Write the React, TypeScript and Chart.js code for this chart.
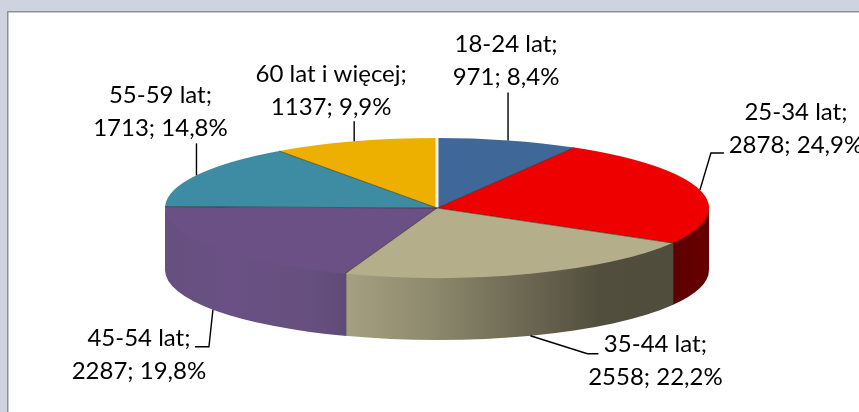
import React, { useEffect, useRef } from "react";
import { Chart, registerables } from "chart.js";

Chart.register(...registerables);

const categories = ["18-24 lat", "25-34 lat", "35-44 lat", "45-54 lat", "55-59 lat", "60 lat i więcej"];
const values = [971, 2878, 2558, 2287, 1713, 1137];
const percents = ["8,4%", "24,9%", "22,2%", "19,8%", "14,8%", "9,9%"];
const topColors = ["#3F6797", "#EE0000", "#B5AE8A", "#6A5084", "#3D8CA3", "#EEB000"];

const W = 859, H = 412;
const CX = 437, CY = 208, RX = 272, RY = 70, DEPTH = 62;
const FONT = "24px Lato, Carlito, Calibri, sans-serif";

// wall gradient stops, from left to right of each visible wall
const wallStops: Record<number, [number, string][]> = {
  1: [[0, "#5E0000"], [1, "#660000"]],
  2: [[0, "#A5A080"], [0.26, "#8E8A6E"], [0.57, "#696550"], [0.78, "#524E3D"], [1, "#514D3C"]],
  3: [[0, "#66507F"], [0.35, "#6A5084"], [0.8, "#66507F"], [1, "#604A76"]],
};
// leader-line bends and label centre, relative to the slice's rim point
const callouts = [
  { bends: [[0, -48]], label: [-2, -80] },
  { bends: [[11, -37], [24, -37]], label: [96, -61] },
  { bends: [[57, 18], [68, 18]], label: [125, 25] },
  { bends: [[-4, 37], [-18, 37]], label: [-74, 45] },
  { bends: [[0, -32]], label: [-36, -64] },
  { bends: [[0, -20]], label: [-23, -51] },
];
const LINE_H = 33;

const App = () => {
  const ref = useRef<HTMLCanvasElement>(null);
  useEffect(() => {
    document.body.style.margin = "0";
    const px = (a: number) => CX + RX * Math.cos(a);
    const py = (a: number) => CY + RY * Math.sin(a);

    const pie3d = {
      id: "pie3d",
      beforeDraw(chart: any) {
        const c = chart.ctx;
        c.save();
        c.fillStyle = "#CFD3DF";
        c.fillRect(0, 0, W, H);
        c.fillStyle = "#FFFFFF";
        c.fillRect(7, 11, W, H);
        c.fillStyle = "#8C8F96";
        c.fillRect(7, 11, W, 1.5);
        c.fillRect(7, 11, 1.5, H);
        c.restore();
      },
      beforeDatasetsDraw(chart: any) {
        const c = chart.ctx;
        const arcs = chart.getDatasetMeta(0).data;
        // side walls; each runs a little under the top face and the next wall
        arcs.forEach((el: any, i: number) => {
          const from = Math.max(el.startAngle, 0);
          const to = Math.min(el.endAngle, Math.PI);
          if (to <= from) return;
          const stops = wallStops[i];
          const x1 = px(from), x0 = px(to);
          const g = c.createLinearGradient(x0, 0, x1, 0);
          stops.forEach(([o, col]) => g.addColorStop(o, col));
          c.save();
          c.fillStyle = g;
          c.beginPath();
          c.ellipse(CX, CY - 3, RX, RY, 0, Math.max(from - 0.006, 0), to);
          c.ellipse(CX, CY + DEPTH, RX, RY, 0, to, Math.max(from - 0.006, 0), true);
          c.closePath();
          c.fill();
          c.restore();
        });
        // the pie element itself is squashed into the tilted top face
        const el0 = arcs[0];
        const r = el0.outerRadius;
        c.save();
        c.translate(CX, CY);
        c.scale(RX / r, RY / r);
        c.translate(-el0.x, -el0.y);
      },
      afterDatasetsDraw(chart: any) {
        const c = chart.ctx;
        c.restore();
        const arcs = chart.getDatasetMeta(0).data;
        // seams on the top face
        arcs.forEach((el: any, i: number) => {
          const a = el.startAngle;
          c.save();
          c.strokeStyle = i === 0 ? "#F4F1E4" : "rgba(40,25,10,0.55)";
          c.lineWidth = i === 0 ? 3 : 1;
          c.beginPath();
          c.moveTo(CX, CY);
          c.lineTo(px(a), py(a));
          c.stroke();
          c.restore();
        });
        // labels and leader lines
        c.save();
        c.font = FONT;
        c.textAlign = "center";
        c.textBaseline = "middle";
        arcs.forEach((el: any, i: number) => {
          const mid = (el.startAngle + el.endAngle) / 2;
          const front = Math.sin(mid) > 0;
          const ax = px(mid);
          const ay = py(mid) + (front && Math.cos(mid) < 0.6 ? DEPTH : 0);
          const co = callouts[i];
          c.strokeStyle = "#000";
          c.lineWidth = 1.4;
          c.beginPath();
          c.moveTo(ax, ay);
          co.bends.forEach(([dx, dy]) => c.lineTo(ax + dx, ay + dy));
          c.stroke();
          c.fillStyle = "#000";
          const lx = ax + co.label[0], ly = ay + co.label[1];
          c.fillText(categories[i] + ";", lx, ly - LINE_H / 2);
          c.fillText(values[i] + "; " + percents[i], lx, ly + LINE_H / 2);
        });
        c.restore();
      },
    };

    const chart = new Chart(ref.current!, {
      type: "pie",
      data: {
        labels: categories,
        datasets: [{ data: values, backgroundColor: topColors, borderWidth: 0 }],
      },
      options: {
        responsive: false,
        animation: false,
        plugins: { legend: { display: false }, tooltip: { enabled: false } },
      },
      plugins: [pie3d],
    } as any);
    return () => chart.destroy();
  }, []);
  return <canvas ref={ref} width={W} height={H} style={{ display: "block" }} />;
};

export default App;
